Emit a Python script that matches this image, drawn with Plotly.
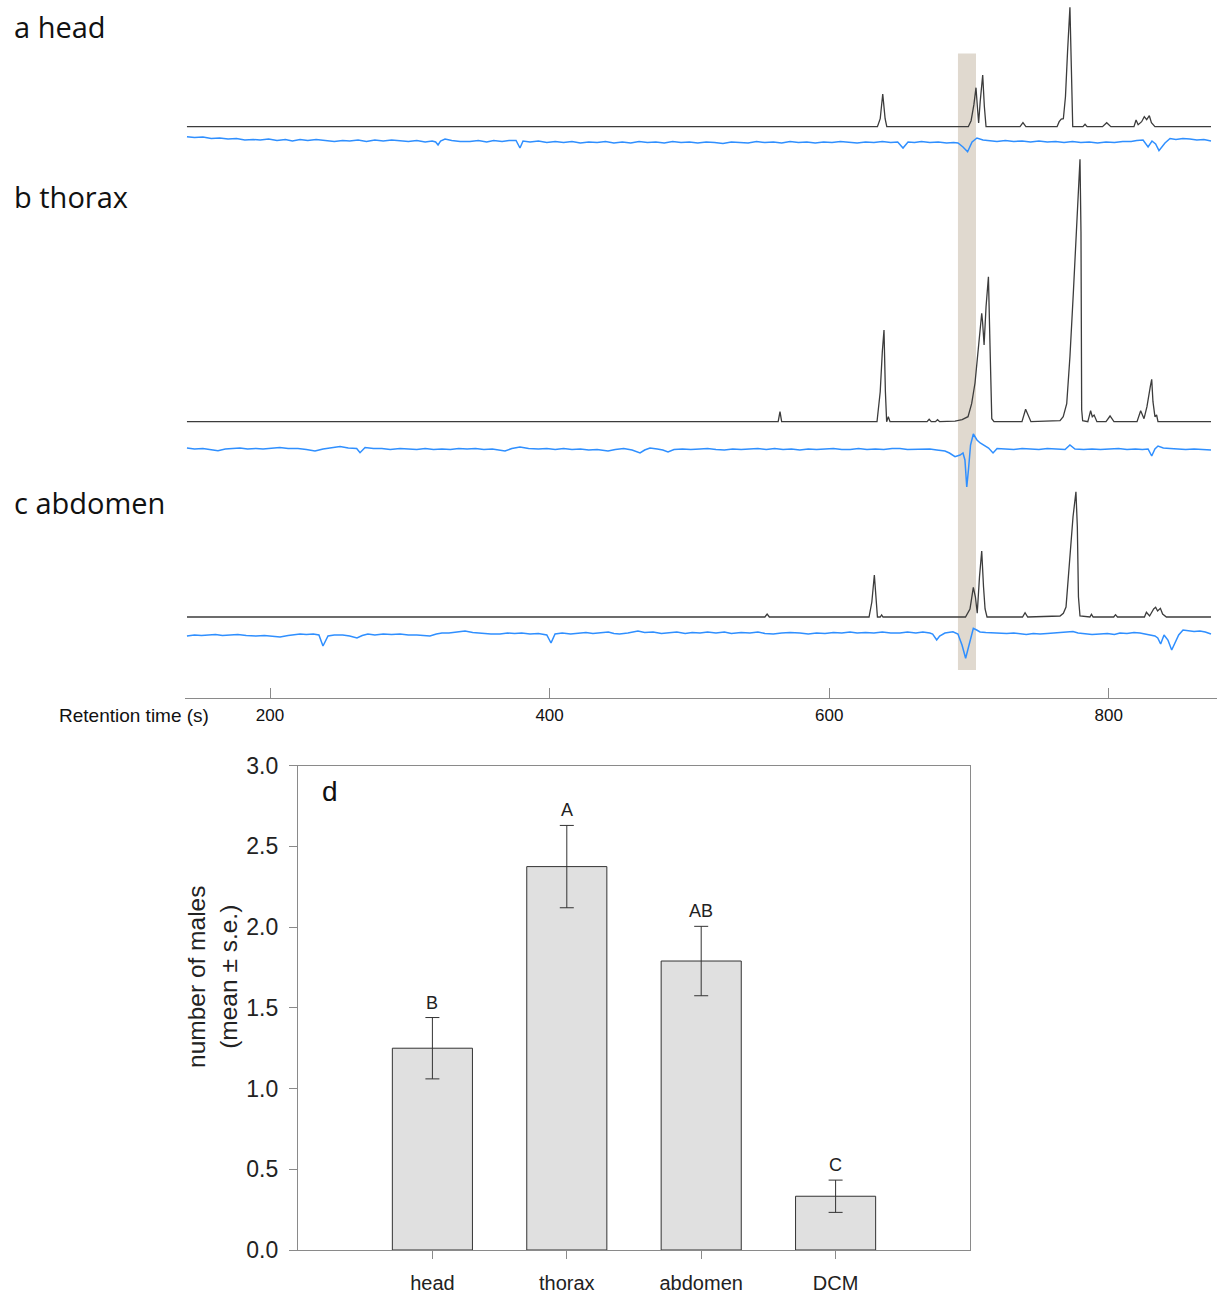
import plotly.graph_objects as go

# ---------------------------------------------------------------------------
# GC-EAD recordings: retention time (s) and detector deflection (signal units)
# FID = flame ionisation detector, EAD = male antennal response
# ---------------------------------------------------------------------------
head_fid = [
    (140.6, 0), (634.5, 0), (636.5, 8), (638.3, 32.7), (640.0, 8), (641.2, 0),
    (699.5, 0), (701.5, 6), (703.5, 22), (705.0, 39), (706.0, 20), (706.9, 3.7),
    (708.0, 25), (709.8, 51.7), (711.0, 20), (712.2, 0),
    (736.5, 0), (738.6, 4), (740.7, 0),
    (763.0, 0), (764.5, 5), (766.0, 7.7), (767.5, 8), (769.0, 30), (770.5, 75),
    (772.2, 119.4), (773.2, 60), (774.2, 0),
    (781.5, 0), (783.0, 2.4), (784.5, 0), (795.5, 0), (798.5, 4), (801.5, 0),
    (818.0, 0), (819.5, 6.7), (821.0, 2), (823.5, 5), (825.4, 10), (827.1, 7),
    (829.0, 11), (830.5, 4), (833.0, 0), (873.1, 0),
]
head_ead = [
    (140.6, 4.3), (146, 3.5), (152, 4), (158, 2.5), (164, 3), (170, 2), (176, 2.5),
    (182, 1), (188, 1.5), (193, 1), (199, 2), (205, 0.5), (211, 1.5), (216, 0),
    (221.5, 1.5), (227, 0.5), (233, 1.5), (240, 0.5), (246, -0.5), (252, 0.5),
    (257, 0), (263, 1), (269, -0.5), (275, 1), (281, 0), (287, 1), (293, 0.5),
    (299, -0.5), (305, 0.5), (311, -1), (316, 0), (318.5, -1), (320.2, -4),
    (322, 0), (325.2, 2), (330, 0.5), (336, -0.5), (343, -0.5), (349, 0.5),
    (355, -1), (360, 0.5), (366, -0.5), (371, 0.5), (376, 0.5), (378.8, -7),
    (381, 0), (386, -1), (392, 0), (398, -1.5), (404, -0.5), (410, -1.5),
    (416, -0.5), (422, -2), (428, -1), (434, -1.5), (440, -0.5), (446, -2),
    (452, -1), (458, -2), (464, -0.5), (470, -1.5), (476, -1), (482, -2),
    (488, -0.5), (494, -1.5), (500, -1), (506, -2), (512, -1), (518, -1.5),
    (524, -2.5), (530, -1), (536, -1.5), (542, -2), (548, -0.5), (554, -1.5),
    (560, -1), (566, -2), (572, -0.5), (578, -1.5), (584, -1), (590, -2),
    (596, -1), (602, -1.5), (608, -0.5), (614, -1), (620, -2), (626, -1),
    (632, -1.5), (638, -0.5), (644, -1.5), (649, -1), (652.8, -7), (656.4, -1),
    (661, -1.5), (666, -0.5), (672, -1.5), (678, -1), (684, -2), (689, -1.5),
    (692.1, -2), (695.7, -6), (699.0, -10.7), (702.2, -1), (705.7, 3), (710, 1),
    (715, 0.5), (720, -0.5), (726, 0.5), (732, -0.5), (738, 0), (744, -1),
    (750, 0), (756, -1), (762, -0.5), (768, -1.5), (774, -0.5), (780, -1.5),
    (786, -1), (792, -2), (798, -1), (804, -1.5), (810, -0.5), (816, -0.5),
    (820, 0.5), (824.5, 1), (828.1, -6), (830.9, 0), (833.5, -3), (835.9, -9.7),
    (840.2, -2), (843.8, 2.5), (848, 1.5), (853, 2.5), (858, 2), (863, 1),
    (868, 1.5), (873.1, 0),
]

thorax_fid = [
    (140.6, 0), (563.5, 0), (564.8, 10), (566.0, 0),
    (634.2, 0), (636.5, 30), (638.0, 70), (639.2, 91.7), (640.2, 30), (641.1, 0),
    (642.3, 5), (643.5, 0),
    (670.0, 0), (671.5, 2.4), (673.0, 0), (676.0, 0), (677.5, 2), (679.0, 0),
    (690.0, 0.5), (695.1, 2), (699.3, 5), (701.9, 18), (704.3, 38.7), (706.7, 72),
    (709.1, 108.4), (709.7, 100), (710.8, 76.7), (712.2, 115), (713.9, 145),
    (715.1, 72), (716.3, 3), (717.9, 0),
    (737.9, 0), (740.5, 12.4), (744.3, 0),
    (765.1, 1), (767.4, 5), (769.9, 18), (772.2, 65), (774.6, 128), (777.0, 195),
    (778.4, 235), (779.4, 262.4), (780.1, 190), (780.6, 12), (781.3, 1),
    (785.0, 0), (787.0, 11), (788.2, 5), (789.5, 6.7), (791.5, 0),
    (798.0, 0), (800.9, 5.7), (803.7, 0),
    (820.2, 0), (822.8, 11), (825.2, 3), (827.3, 15), (829.0, 32), (829.8, 36),
    (830.7, 42.4), (831.6, 20), (833.0, 5), (834.2, 6.7), (835.2, 0), (873.1, 0),
]
thorax_ead = [
    (140.6, 1), (146, 0), (152, 0.5), (158, -0.5), (162.8, -1.7), (168, 0),
    (173, 0.5), (178.5, 1), (184, 0), (190, 0.5), (195, 0), (201, 1), (207, 1.5),
    (213, 0.5), (220, 0.5), (226, -0.5), (232.2, -2), (238, 0), (244, 1),
    (250.1, 2.5), (256, 1), (262, 0.5), (264.4, -3.7), (268, 1.5), (274, 0.5),
    (280, 0.5), (286, -0.5), (293, 0.5), (299, 0), (305, -0.5), (311, 0.5),
    (317, -0.5), (323, 0), (329, -0.5), (335, 0.5), (341, 0), (347, 0.5),
    (353, -0.5), (359, 0), (364, -1), (368.1, -2), (373, 0.5), (378.8, 2),
    (385, 0.5), (392, 0), (398, 0.5), (404, -0.5), (410, 0.5), (416, -0.5),
    (422, 0), (428, -1), (434, -0.5), (441.8, -2), (447, -0.5), (453, 0.5),
    (459, -1), (464.7, -4), (468, -1), (471.8, 1), (477, 0), (481, -1),
    (484.7, -3), (489, -0.5), (495, 0), (501, -0.5), (507.6, 0), (513, 0.5),
    (519, -0.5), (525, -1), (531, 0), (537, -0.5), (543, 0), (549, 0.5),
    (555, -0.5), (561, 0.5), (567, -0.5), (573, 0), (579, -1), (585, 0),
    (591, -0.5), (597, 0), (603, 0.5), (609, -0.5), (615, -0.5), (621, 0.5),
    (627, -0.5), (633, 0), (639, -0.5), (645, 0.5), (650.6, 0.5), (656, -0.5),
    (662, -0.5), (667, 0), (672, 0), (677, -1), (682.8, -2), (686, -4),
    (690.0, -7.7), (693.6, -6), (695.7, -4), (697.1, -11), (698.4, -38),
    (699.6, -21), (701.1, 4), (703.1, 15), (705.7, 9), (708, 6), (711.5, 3),
    (714, 1), (717.2, -4), (720.1, 0.5), (726, 0), (732, -0.5), (738, 0.5),
    (744, 0), (750, -0.5), (756, 0.5), (762, 0), (768.7, -0.5), (772.2, 4),
    (775.8, 0), (782, -0.5), (788, 0), (794, -0.5), (800.9, 0), (807, 0.5),
    (813, -0.5), (819, 0), (824, -0.5), (828.1, 0), (830.7, -7), (833, 0),
    (835.2, 3), (839, 1), (843.8, 0.5), (849, 0), (855, -0.5), (861, 0),
    (867, -0.5), (873.1, -1),
]

abdomen_fid = [
    (140.6, 0), (554.0, 0), (555.6, 3), (557.2, 0),
    (628.5, 0), (630.5, 15), (632.3, 42), (633.3, 20), (634.5, 0), (636.5, 0),
    (637.5, 2), (638.5, 0),
    (697.5, 0), (700.7, 8), (703.1, 29.7), (704.6, 20), (705.9, 3.7), (707.5, 40),
    (709.1, 66), (710.4, 30), (711.5, 8), (712.9, 0),
    (738.3, 0), (740.1, 4.3), (742.0, 0),
    (765.1, 1), (767.5, 3.7), (769.4, 10), (772.2, 60), (774.4, 100),
    (776.5, 125.3), (777.5, 90), (778.3, 20), (779.4, 1),
    (786.5, 0), (787.6, 2.7), (788.8, 0), (803.5, 0), (804.8, 2.3), (806.2, 0),
    (825.5, 0), (826.9, 4.7), (829.2, 1), (832.1, 8), (833.5, 9.7), (834.9, 6),
    (836.9, 8.7), (838.5, 3), (841.2, 0), (873.1, 0),
]
abdomen_ead = [
    (140.6, -2), (146, -1), (151, -1.5), (155, -1), (161, -0.5), (166, -1.5),
    (171.4, -1), (177, -0.5), (183, -1.5), (190, -2), (196, -1.5), (201, -2.5),
    (207.2, -3), (213, -1.5), (217, -0.5), (221.5, 0), (226, -0.5), (231, 0),
    (235, -1), (237.9, -12), (241.5, -2), (246, -1), (252, -1), (257, -2),
    (262.2, -4), (266, -1.5), (270, 0), (275, -1), (281, 0), (287, -0.5),
    (293, 0), (299, -1), (305, -1), (310, -1.5), (314.4, -2), (319, 0), (323, 1),
    (328, 1), (333, 2), (339.5, 3), (345, 1.5), (352, 0.5), (358, 0),
    (364.5, 0), (370, 1), (375, 0.5), (380, 1), (386, 0), (392, 0.5), (398, -1),
    (401, -9), (403.9, 0), (409, 1), (415, 0), (420, 0.5), (426, 1.5),
    (431, 0.5), (436, 1), (442, 2), (446, 0.5), (450, 0), (456, 1), (463.2, 3),
    (468, 1.5), (474, 2), (480, 0.5), (485, 1), (491, 2), (497, 0.5),
    (502, 1.5), (507.6, 1), (513, 2), (519, 1), (525, 2), (530, 0.5),
    (537, 1.5), (543.3, 1), (549, 2), (554, 0.5), (560, 0), (566, 1),
    (572, 1.5), (579, 1), (585, 0), (591, 1), (597, 0.5), (603, 1.5), (609, 1),
    (614.9, 2), (620, 1), (626, 1.5), (632, 1), (638, 2), (644, 1), (650.6, 1),
    (656, 2), (662, 1), (667, 2), (672, 1), (674, 0), (676.9, -6), (679, -2),
    (682.8, 1), (686, 2), (688.5, 2.3), (692.1, 0), (695, -11), (697.6, -24.3),
    (700, -11), (703.1, 5.7), (705.5, 4), (707.9, 2), (712, 1.5), (717, 1),
    (722.2, 1), (727, 0.5), (732, 1), (736, 0.5), (741, -0.5), (746, 0.5),
    (750.8, 0), (756, 0.5), (762, 1), (768, 1.5), (774.4, 2.5), (778, 1),
    (783, 0.5), (788, -0.5), (793.7, 0), (799, 0.5), (804, -0.5), (808, 1),
    (813, 0.5), (818, 1.5), (822.3, 1), (826, 0), (830, -1), (833, -2),
    (835, -4), (837.1, -10), (839.5, -1), (842.3, -6), (845, -16), (848.1, -6),
    (850, -1), (853.1, 4), (857, 3), (861, 2.5), (865.2, 3), (869, 2),
    (873.1, 0),
]

# retention-time window of the antennally active compound
active_window = (692.1, 705.0)
time_ticks = [200, 400, 600, 800]

# ---------------------------------------------------------------------------
# Field trapping: males caught per body-part extract
# ---------------------------------------------------------------------------
parts = ["head", "thorax", "abdomen", "DCM"]
males_mean = [1.25, 2.375, 1.79, 0.333]
males_se = [0.19, 0.255, 0.215, 0.10]
group_letters = ["B", "A", "AB", "C"]

# ---------------------------------------------------------------------------
W, H = 1218, 1295
FID_COLOR = "#3c3c3c"
EAD_COLOR = "#2f8fff"
SANS = "Liberation Sans, Arial, sans-serif"
LABEL_FONT = "Open Sans, Noto Sans, sans-serif"

# chromatogram panel: y axis runs in screen rows (top = 0)
chrom_bottom = 698
panels = [
    # name, FID data, EAD data, FID baseline row, EAD baseline row, label, label row
    ("head", head_fid, head_ead, 126.7, 141.0, "a head", 26),
    ("thorax", thorax_fid, thorax_ead, 421.7, 449.0, "b thorax", 197),
    ("abdomen", abdomen_fid, abdomen_ead, 617.0, 634.0, "c abdomen", 502),
]

fig = go.Figure()

for name, fid, ead, fid_base, ead_base, label, label_row in panels:
    ft, fv = zip(*fid)
    et, ev = zip(*ead)
    fig.add_trace(go.Scatter(
        x=list(et), y=[ead_base - v for v in ev], mode="lines",
        line=dict(color=EAD_COLOR, width=1.5), xaxis="x", yaxis="y",
        showlegend=False, name=f"{name} EAD",
    ))
    fig.add_trace(go.Scatter(
        x=list(ft), y=[fid_base - v for v in fv], mode="lines",
        line=dict(color=FID_COLOR, width=1.3), xaxis="x", yaxis="y",
        showlegend=False, name=f"{name} FID",
    ))
    fig.add_annotation(
        text=label, x=12 / W, xref="paper", xanchor="left",
        y=1 - label_row / H, yref="paper", yanchor="middle",
        showarrow=False, font=dict(family=LABEL_FONT, size=29, color="#111"),
    )

fig.add_shape(
    type="rect", xref="x", yref="y",
    x0=active_window[0], x1=active_window[1], y0=53.5, y1=670,
    fillcolor="#e0d9cf", line=dict(width=0), layer="below",
)

fig.add_annotation(
    text="Retention time (s)", x=211 / W, xref="paper", xanchor="right",
    y=1 - 715 / H, yref="paper", yanchor="middle", showarrow=False,
    font=dict(family=SANS, size=19, color="#111"),
)

# bar chart
fig.add_trace(go.Bar(
    x=parts, y=males_mean, xaxis="x2", yaxis="y2", width=0.596,
    marker=dict(color="#e0e0e0", line=dict(color="#333333", width=1)),
    error_y=dict(type="data", array=males_se, color="#333333",
                 thickness=1, width=7),
    showlegend=False, name="males",
))
for p, m, s, lt in zip(parts, males_mean, males_se, group_letters):
    fig.add_annotation(
        text=lt, x=p, y=m + s, xref="x2", yref="y2", xanchor="center",
        yanchor="bottom", yshift=3, showarrow=False,
        font=dict(family=SANS, size=18, color="#222"),
    )

fig.add_annotation(
    text="d", x=330 / W, xref="paper", xanchor="center",
    y=1 - 792 / H, yref="paper", yanchor="middle", showarrow=False,
    font=dict(family=SANS, size=28, color="#111"),
)
fig.add_annotation(
    text="number of males<br>(mean ± s.e.)", textangle=-90,
    x=212 / W, xref="paper", xanchor="center",
    y=1 - 977 / H, yref="paper", yanchor="middle", showarrow=False,
    font=dict(family=SANS, size=24.5, color="#222"),
)

axis_gray = "#8a8a8a"
fig.update_layout(
    width=W, height=H,
    margin=dict(l=0, r=0, t=0, b=0, autoexpand=False),
    paper_bgcolor="white", plot_bgcolor="rgba(0,0,0,0)",
    xaxis=dict(
        domain=[185 / W, 1217 / W], range=[139.2, 877.4], anchor="y",
        automargin=False,
        showgrid=False, zeroline=False, showline=True, linecolor=axis_gray,
        linewidth=1, ticks="inside", ticklen=10, tickcolor=axis_gray,
        tickvals=time_ticks, ticklabelstandoff=2,
        tickfont=dict(family=SANS, size=17, color="#111"),
    ),
    yaxis=dict(
        domain=[1 - chrom_bottom / H, 1], range=[chrom_bottom, 0],
        visible=False, anchor="x", automargin=False,
    ),
    xaxis2=dict(
        domain=[298 / W, 970 / W], range=[-1, 4], anchor="y2",
        type="category", showgrid=False, zeroline=False, automargin=False,
        showline=True, mirror=True, linecolor=axis_gray, linewidth=1.2,
        ticks="outside", ticklen=8, tickcolor=axis_gray,
        ticklabelstandoff=7,
        tickfont=dict(family=SANS, size=20, color="#222"),
    ),
    yaxis2=dict(
        domain=[1 - 1250 / H, 1 - 765.7 / H], range=[0, 3], anchor="x2",
        showgrid=False, zeroline=False, showline=True, mirror=True,
        automargin=False,
        linecolor=axis_gray, linewidth=1.2, ticks="outside", ticklen=8,
        tickcolor=axis_gray, tickvals=[0, 0.5, 1, 1.5, 2, 2.5, 3],
        tickformat=".1f", ticklabelstandoff=6,
        tickfont=dict(family=SANS, size=23, color="#222"),
    ),
)

fig.write_html("out.html")
